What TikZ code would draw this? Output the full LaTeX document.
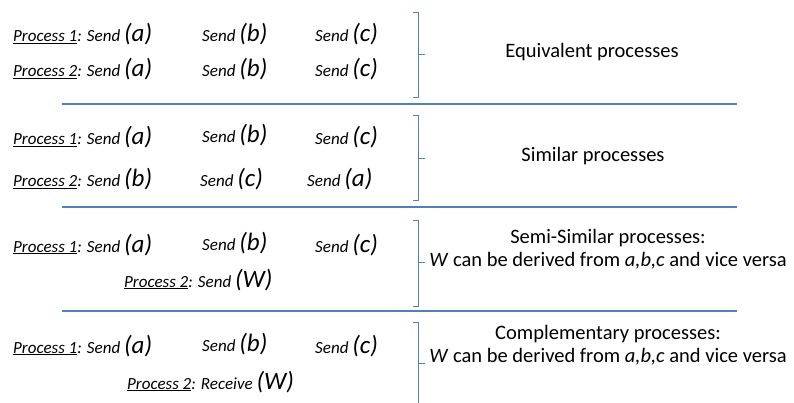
\documentclass[tikz,border=0pt]{standalone}
\usepackage{fontspec}
\setmainfont{Carlito}
\usetikzlibrary{positioning}
\definecolor{lineblue}{RGB}{79,129,189}
\newcommand{\bigarg}[1]{{\fontsize{25}{25}\selectfont(#1)}}
\tikzset{
    proctext/.style={anchor=base west, inner sep=0pt, font=\fontsize{17}{20}\selectfont\itshape},
    kindtext/.style={anchor=base, inner sep=0pt, align=center, font=\fontsize{20.5}{23}\selectfont},
    sepline/.style={draw=lineblue, line width=1.4pt},
    bracket/.style={draw=lineblue, line width=0.9pt}
}

\begin{document}
\begin{tikzpicture}[x=1pt, y=-1pt]
    \useasboundingbox (0,0) rectangle (794,403);

    % Equivalent
    \node[proctext] (eqa1) at (13,42) {\underline{Process 1}: Send \bigarg{a}};
    \node[proctext] (eqb1) at (202,42) {Send \bigarg{b}};
    \node[proctext] (eqc1) at (315,42) {Send \bigarg{c}};
    \node[proctext] (eqa2) at (13,77) {\underline{Process 2}: Send \bigarg{a}};
    \node[proctext] (eqb2) at (202,77) {Send \bigarg{b}};
    \node[proctext] (eqc2) at (315,77) {Send \bigarg{c}};
    \draw[bracket] (413,12) -- (418,12) -- (418,97) -- (413,97) (418,54) -- (425,54);
    \node[kindtext] (eqkind) at (592,58) {Equivalent processes};
    \draw[sepline] (62,104) -- (737,104);

    % Similar
    \node[proctext] (sima1) at (13,145) {\underline{Process 1}: Send \bigarg{a}};
    \node[proctext] (simb1) at (202,143) {Send \bigarg{b}};
    \node[proctext] (simc1) at (315,145) {Send \bigarg{c}};
    \node[proctext] (simb2) at (13,187) {\underline{Process 2}: Send \bigarg{b}};
    \node[proctext] (simc2) at (200,187) {Send \bigarg{c}};
    \node[proctext] (sima2) at (307,187) {Send \bigarg{a}};
    \draw[bracket] (413,115) -- (418,115) -- (418,200) -- (413,200) (418,158) -- (425,158);
    \node[kindtext] (simkind) at (593,162) {Similar processes};
    \draw[sepline] (62,207) -- (737,207);

    % Semi-similar
    \node[proctext] (semia1) at (13,252) {\underline{Process 1}: Send \bigarg{a}};
    \node[proctext] (semib1) at (202,250) {Send \bigarg{b}};
    \node[proctext] (semic1) at (315,252) {Send \bigarg{c}};
    \node[proctext] (semiw2) at (124,287) {\underline{Process 2}: Send \bigarg{W}};
    \draw[bracket] (413,220) -- (418,220) -- (418,306) -- (413,306) (418,262) -- (425,262);
    \node[kindtext] (semikind) at (608,266) {Semi-Similar processes:\\\textit{W} can be derived from \textit{a,b,c} and vice versa};
    \draw[sepline] (62,311) -- (737,311);

    % Complementary
    \node[proctext] (compa1) at (13,353) {\underline{Process 1}: Send \bigarg{a}};
    \node[proctext] (compb1) at (202,351) {Send \bigarg{b}};
    \node[proctext] (compc1) at (315,353) {Send \bigarg{c}};
    \node[proctext] (compw2) at (127,389) {\underline{Process 2}: Receive \bigarg{W}};
    \draw[bracket] (413,322) -- (418,322) -- (418,404) (418,363) -- (425,363);
    \node[kindtext] (compkind) at (608,362) {Complementary processes:\\\textit{W} can be derived from \textit{a,b,c} and vice versa};
\end{tikzpicture}
\end{document}
